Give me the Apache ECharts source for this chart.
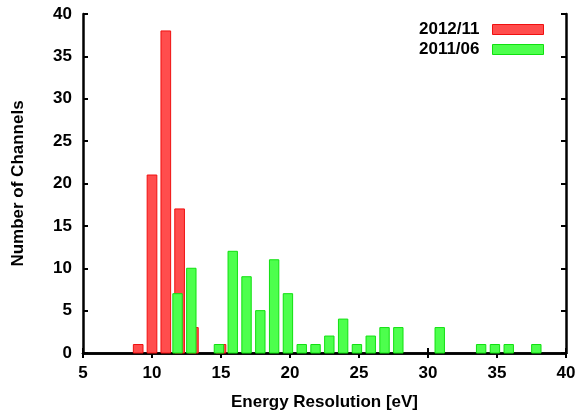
<!DOCTYPE html>
<html>
<head>
<meta charset="utf-8">
<script src="https://cdn.jsdelivr.net/npm/echarts@6/dist/echarts.min.js"></script>
<style>
  html, body { margin: 0; padding: 0; background: #fff; }
  #chart { width: 581px; height: 414px; }
</style>
</head>
<body>
<div id="chart"></div>
<script>
// Histogram bins (eV) and channel counts
const bins2012 = [9, 10, 11, 12, 13, 15];
const counts2012 = [1, 21, 38, 17, 3, 1];

const bins2011 = [12, 13, 15, 16, 17, 18, 19, 20, 21, 22, 23, 24, 25, 26, 27, 28, 31, 34, 35, 36, 38];
const counts2011 = [7, 10, 1, 12, 9, 5, 11, 7, 1, 1, 2, 4, 1, 2, 3, 3, 3, 1, 1, 1, 1];

const xTicks = [5, 10, 15, 20, 25, 30, 35, 40];
const yTicks = [0, 5, 10, 15, 20, 25, 30, 35, 40];

const FONT = '"Liberation Sans", Arial, sans-serif';

function pairs(xs, ys) {
    return xs.map((x, i) => [x, ys[i]]);
}

// Draw a box of given width (axis units), shifted by offset
function boxRenderer(width, offset, fill, stroke) {
    return function(params, api) {
        const x = api.value(0) + offset;
        const lo = api.coord([x - width / 2, 0]);
        const hi = api.coord([x + width / 2, api.value(1)]);
        return {
            type: 'rect',
            shape: { x: lo[0], y: hi[1], width: hi[0] - lo[0], height: lo[1] - hi[1] },
            style: { fill: fill, stroke: stroke, lineWidth: 1 }
        };
    };
}

const chart = echarts.init(document.getElementById('chart'));

const axisLine = { show: true, lineStyle: { color: '#000', width: 2.5 } };
const axisTick = { show: true, inside: true, length: 5, lineStyle: { color: '#000', width: 2 } };
const labelStyle = { color: '#000', fontFamily: FONT, fontWeight: 'bold', fontSize: 17 };
const nameStyle = { color: '#000', fontFamily: FONT, fontWeight: 'bold', fontSize: 17 };

const option = {
    animation: false,
    backgroundColor: '#fff',
    grid: { left: 83, right: 15, top: 14, bottom: 61, outerBoundsMode: 'none' },
    legend: {
        orient: 'vertical',
        right: 32,
        top: 16,
        align: 'right',
        itemWidth: 51,
        itemHeight: 10,
        itemGap: 3,
        textStyle: {
            color: '#000', fontFamily: FONT, fontWeight: 'bold', fontSize: 17,
            lineHeight: 14, padding: [0, 8, 0, 0]
        },
        data: [
            { name: '2012/11', icon: 'rect', itemStyle: { color: '#ff4d4d', borderColor: '#f01010', borderWidth: 1 } },
            { name: '2011/06', icon: 'rect', itemStyle: { color: '#4dff4d', borderColor: '#10e010', borderWidth: 1 } }
        ]
    },
    xAxis: [{
        type: 'value',
        min: xTicks[0],
        max: xTicks[xTicks.length - 1],
        interval: 5,
        name: 'Energy Resolution [eV]',
        nameLocation: 'middle',
        nameGap: 41,
        nameTextStyle: nameStyle,
        axisLine: axisLine,
        axisTick: axisTick,
        axisLabel: Object.assign({ margin: 12 }, labelStyle),
        splitLine: { show: false }
    }, {
        type: 'value',
        position: 'top',
        min: xTicks[0],
        max: xTicks[xTicks.length - 1],
        interval: 5,
        axisLine: axisLine,
        axisTick: axisTick,
        axisLabel: { show: false },
        splitLine: { show: false }
    }],
    yAxis: [{
        type: 'value',
        min: yTicks[0],
        max: yTicks[yTicks.length - 1],
        interval: 5,
        name: 'Number of Channels',
        nameLocation: 'middle',
        nameGap: 56,
        nameTextStyle: nameStyle,
        axisLine: axisLine,
        axisTick: axisTick,
        axisLabel: Object.assign({ margin: 11 }, labelStyle),
        splitLine: { show: false }
    }, {
        type: 'value',
        position: 'right',
        min: yTicks[0],
        max: yTicks[yTicks.length - 1],
        interval: 5,
        axisLine: axisLine,
        axisTick: axisTick,
        axisLabel: { show: false },
        splitLine: { show: false }
    }],
    series: [{
        name: '2012/11',
        type: 'custom',
        itemStyle: { color: '#ff4d4d' },
        renderItem: boxRenderer(0.7, 0, '#ff4d4d', '#f01010'),
        encode: { x: 0, y: 1 },
        data: pairs(bins2012, counts2012),
        z: 2
    }, {
        name: '2011/06',
        type: 'custom',
        itemStyle: { color: '#4dff4d' },
        renderItem: boxRenderer(0.68, -0.15, '#4dff4d', '#10e010'),
        encode: { x: 0, y: 1 },
        data: pairs(bins2011, counts2011),
        z: 3
    }]
};

chart.setOption(option);
</script>
</body>
</html>
